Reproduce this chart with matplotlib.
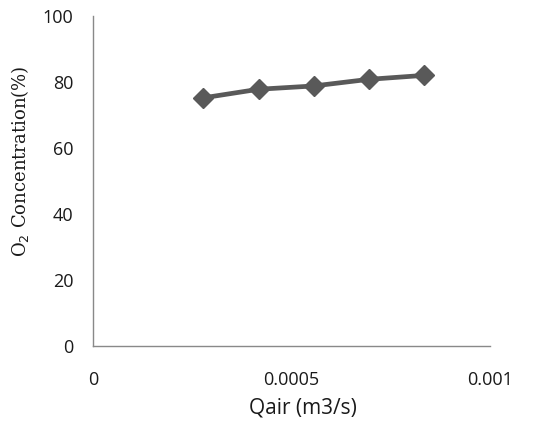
import matplotlib
matplotlib.use("Agg")
import matplotlib.pyplot as plt

qair = [0.000278, 0.000417, 0.000556, 0.000694, 0.000833]
o2_conc = [75.2, 77.8, 78.8, 80.8, 82.0]
xticks = [0, 0.0005, 0.001]
xtick_labels = ["0", "0.0005", "0.001"]
yticks = [0, 20, 40, 60, 80, 100]

fig = plt.figure(figsize=(5.46, 4.29), dpi=100)
ax = fig.add_axes([93/546, 1 - 346/429, (490-93)/546, (346-16)/429])
ax.plot(qair, o2_conc, color="#595959", linewidth=3.4, marker="D",
        markersize=10.5, markerfacecolor="#595959", markeredgecolor="#595959",
        clip_on=False)
ax.set_xlim(0, 0.001)
ax.set_ylim(0, 100)
ax.set_xticks(xticks)
ax.set_xticklabels(xtick_labels)
ax.set_yticks(yticks)
for s in ["top", "right"]:
    ax.spines[s].set_visible(False)
for s in ["left", "bottom"]:
    ax.spines[s].set_color("#898989")
    ax.spines[s].set_linewidth(1.0)
ax.tick_params(axis="both", length=0, labelsize=13, colors="#1a1a1a")
ax.tick_params(axis="x", pad=18)
ax.tick_params(axis="y", pad=14)
for lab in ax.get_xticklabels() + ax.get_yticklabels():
    lab.set_fontfamily("Open Sans")

fig.text(20/546, 1 - 161/429, "O$_2$ Concentration(%)", rotation=90,
         ha="center", va="center", fontsize=13, family="DejaVu Serif",
         color="#1a1a1a")
fig.text(303/546, 1 - 408/429, "Qair (m3/s)", ha="center", va="center",
         fontsize=15, family="Open Sans", color="#1a1a1a")

fig.savefig("out.png", dpi=100)
